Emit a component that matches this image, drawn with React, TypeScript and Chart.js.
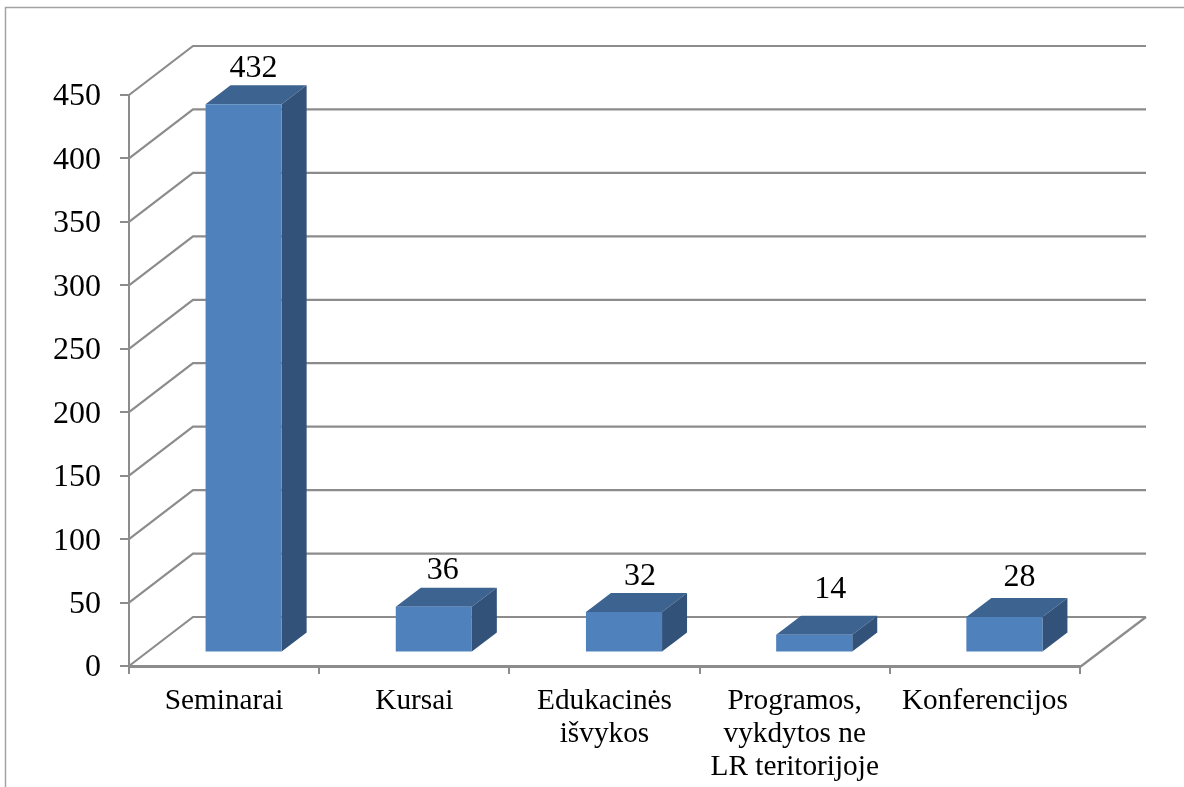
import React, { useEffect, useRef } from "react";
import { Chart, registerables } from "chart.js";

Chart.register(...registerables);

const categories: (string | string[])[] = [
  "Seminarai",
  "Kursai",
  ["Edukacinės", "išvykos"],
  ["Programos,", "vykdytos ne", "LR teritorijoje"],
  "Konferencijos",
];
const values = [432, 36, 32, 14, 28];
const yTicks = [0, 50, 100, 150, 200, 250, 300, 350, 400, 450];

const labelDx = [10, 9, 16, 16, 15];
const labelGap = [8, 9, 8, 18, 12];

const FONT = '"Liberation Serif", "Times New Roman", serif';
const GRID = "#8c8c8c";
const FRONT = "#4f81bd";
const TOP = "#3d6390";
const SIDE = "#32527a";

// projection of the 3D look
const WALL_DX = 64;
const WALL_DY = -49;
const BAR_DX = 19.5;
const BAR_DY = -13.5;
const DEPTH_DX = 25;
const DEPTH_DY = -19;

const chart3d = {
  id: "chart3d",
  beforeDraw(chart: any) {
    const { ctx } = chart;
    ctx.save();
    ctx.strokeStyle = "#a3a3a3";
    ctx.lineWidth = 1.5;
    ctx.beginPath();
    ctx.moveTo(5.5, 787);
    ctx.lineTo(5.5, 7.5);
    ctx.lineTo(1184, 7.5);
    ctx.stroke();
    ctx.restore();
  },
  beforeDatasetsDraw(chart: any) {
    const { ctx, chartArea, scales } = chart;
    ctx.save();
    ctx.strokeStyle = GRID;
    ctx.lineWidth = 2.2;
    for (const v of yTicks) {
      const y = scales.y.getPixelForValue(v);
      ctx.beginPath();
      ctx.moveTo(chartArea.left, y);
      ctx.lineTo(chartArea.left + WALL_DX, y + WALL_DY);
      ctx.lineTo(chartArea.right + WALL_DX + 2, y + WALL_DY);
      ctx.stroke();
    }
    const y0 = scales.y.getPixelForValue(0);
    ctx.beginPath();
    ctx.moveTo(chartArea.right, y0 + 1);
    ctx.lineTo(chartArea.right + WALL_DX + 2, y0 + WALL_DY);
    ctx.stroke();
    ctx.restore();
  },
  beforeDatasetDraw(chart: any) {
    const { ctx } = chart;
    const meta = chart.getDatasetMeta(0);
    ctx.save();
    ctx.translate(BAR_DX, BAR_DY);
    for (const el of meta.data) {
      const { x, y, base, width } = el.getProps(["x", "y", "base", "width"], true);
      const l = x - width / 2;
      const r = x + width / 2;
      ctx.fillStyle = TOP;
      ctx.beginPath();
      ctx.moveTo(l, y);
      ctx.lineTo(l + DEPTH_DX, y + DEPTH_DY);
      ctx.lineTo(r + DEPTH_DX, y + DEPTH_DY);
      ctx.lineTo(r, y);
      ctx.closePath();
      ctx.fill();
      ctx.fillStyle = SIDE;
      ctx.beginPath();
      ctx.moveTo(r, y);
      ctx.lineTo(r + DEPTH_DX, y + DEPTH_DY);
      ctx.lineTo(r + DEPTH_DX, base + DEPTH_DY);
      ctx.lineTo(r, base);
      ctx.closePath();
      ctx.fill();
    }
  },
  afterDatasetDraw(chart: any) {
    const { ctx } = chart;
    ctx.restore();
    const meta = chart.getDatasetMeta(0);
    ctx.save();
    ctx.fillStyle = "#000";
    ctx.font = `32px ${FONT}`;
    ctx.textAlign = "center";
    ctx.textBaseline = "alphabetic";
    meta.data.forEach((el: any, i: number) => {
      const { x, y } = el.getProps(["x", "y"], true);
      ctx.fillText(
        String(values[i]),
        x + BAR_DX + labelDx[i],
        y + BAR_DY + DEPTH_DY - labelGap[i]
      );
    });
    ctx.restore();
  },
};

export default function App() {
  const ref = useRef<HTMLCanvasElement>(null);
  useEffect(() => {
    const chart = new Chart(ref.current!, {
      type: "bar",
      data: {
        labels: categories,
        datasets: [
          {
            data: values,
            backgroundColor: FRONT,
            borderWidth: 0,
            barPercentage: 0.4,
            categoryPercentage: 1,
          },
        ],
      },
      options: {
        animation: false,
        responsive: false,
        layout: { padding: { left: 0, top: 95, right: 104, bottom: 0 } },
        plugins: { legend: { display: false }, tooltip: { enabled: false } },
        scales: {
          x: {
            afterFit(scale: any) {
              scale.height = 121;
            },
            border: { color: GRID, width: 3 },
            grid: {
              color: GRID,
              lineWidth: 2,
              drawOnChartArea: false,
              tickLength: 8,
              offset: true,
            },
            ticks: {
              color: "#000",
              font: { family: FONT, size: 29.3, lineHeight: 1.13 },
              padding: 11,
              maxRotation: 0,
              autoSkip: false,
            },
          },
          y: {
            min: 0,
            max: 450,
            afterFit(scale: any) {
              scale.width = 129;
            },
            afterBuildTicks(scale: any) {
              scale.ticks = yTicks.map((value) => ({ value }));
            },
            border: { color: GRID, width: 2 },
            grid: {
              color: GRID,
              lineWidth: 2,
              drawOnChartArea: false,
              tickLength: 9,
            },
            ticks: {
              color: "#000",
              font: { family: FONT, size: 32 },
              padding: 19,
              labelOffset: 2,
            },
          },
        },
      },
      plugins: [chart3d],
    } as any);
    return () => chart.destroy();
  }, []);
  return (
    <div style={{ position: "absolute", left: 0, top: 0, width: 1184, height: 787 }}>
      <canvas ref={ref} width={1184} height={787} style={{ display: "block" }} />
    </div>
  );
}
